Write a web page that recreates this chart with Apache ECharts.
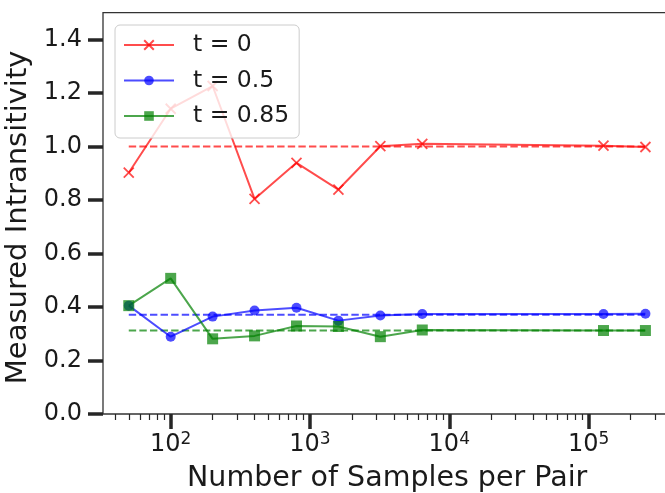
<!DOCTYPE html>
<html>
<head>
<meta charset="utf-8">
<script src="https://cdn.jsdelivr.net/npm/echarts@6/dist/echarts.min.js"></script>
<style>
html,body{margin:0;padding:0;background:#fff;}
#chart{width:665px;height:493px;}
</style>
</head>
<body>
<div id="chart"></div>
<script>
// ---- data ----
var samples = [50, 100, 200, 400, 800, 1600, 3200, 6400, 128000, 256000];
var t0   = [0.902, 1.141, 1.226, 0.804, 0.939, 0.839, 1.001, 1.010, 1.003, 0.998];
var t05  = [0.405, 0.289, 0.364, 0.387, 0.397, 0.349, 0.368, 0.374, 0.374, 0.375];
var t085 = [0.405, 0.507, 0.281, 0.292, 0.329, 0.327, 0.289, 0.314, 0.312, 0.312];
var mean0 = 1.0, mean05 = 0.371, mean085 = 0.312;
var seriesNames = ['t = 0', 't = 0.5', 't = 0.85'];
var xMajorTicks = [100, 1000, 10000, 100000];
var xMinorTicks = [40, 50, 60, 70, 80, 90,
  200, 300, 400, 500, 600, 700, 800, 900,
  2000, 3000, 4000, 5000, 6000, 7000, 8000, 9000,
  20000, 30000, 40000, 50000, 60000, 70000, 80000, 90000,
  200000, 300000];
var yTicks = [0, 0.2, 0.4, 0.6, 0.8, 1.0, 1.2, 1.4];
var xName = 'Number of Samples per Pair';
var yName = 'Measured Intransitivity';

function pairs(xs, ys) { return xs.map(function (x, i) { return [x, ys[i]]; }); }
function flat(v) { return [[samples[0], v], [samples[samples.length - 1], v]]; }

var FONT = 'DejaVu Sans';
var TXT = '#1a1a1a';
var xMin = Math.pow(10, 1.514), xMax = Math.pow(10, 5.594);
var crossPath = 'path://M0,0L10,10M10,0L0,10';

var chart = echarts.init(document.getElementById('chart'), null, {renderer: 'canvas'});
chart.setOption({
  animation: false,
  backgroundColor: '#ffffff',
  grid: {left: 103, top: 12.7, right: -6.3, bottom: 79, show: true,
         outerBoundsMode: 'none', containLabel: false,
         borderColor: '#333', borderWidth: 1.3, backgroundColor: 'transparent'},
  legend: {
    data: seriesNames,
    orient: 'vertical',
    left: 115, top: 25,
    padding: [8, 10, 10, 8],
    itemWidth: 50, itemHeight: 12, itemGap: 11.5,
    backgroundColor: 'rgba(255,255,255,0.8)',
    borderColor: '#cccccc', borderWidth: 1, borderRadius: 5,
    textStyle: {fontFamily: FONT, fontSize: 23.5, color: TXT, lineHeight: 24, padding: [0, 0, 0, 14]},
    z: 10
  },
  xAxis: [{
    type: 'log', min: xMin, max: xMax, logBase: 10,
    name: xName, nameLocation: 'middle', nameGap: 50,
    nameTextStyle: {fontFamily: FONT, fontSize: 28.5, color: TXT},
    axisLine: {show: false},
    splitLine: {show: false},
    minorTick: {show: false},
    axisTick: {show: true, customValues: xMajorTicks, length: 15, lineStyle: {color: '#262626', width: 3.5}},
    axisLabel: {
      customValues: xMajorTicks, margin: 17,
      formatter: function (v) { return '{b|10}{s|' + Math.round(Math.log10(v)) + '}'; },
      rich: {
        b: {fontFamily: FONT, fontSize: 24, color: TXT, lineHeight: 28},
        s: {fontFamily: FONT, fontSize: 17, color: TXT, lineHeight: 17, verticalAlign: 'top'}
      }
    }
  }, {
    type: 'log', min: xMin, max: xMax, logBase: 10, position: 'bottom',
    axisLine: {show: false}, splitLine: {show: false},
    axisLabel: {show: false},
    axisTick: {show: true, customValues: xMinorTicks, length: 6, lineStyle: {color: '#262626', width: 1.2}}
  }],
  yAxis: {
    type: 'value', min: 0, max: 1.5,
    name: yName, nameLocation: 'middle', nameGap: 66,
    nameTextStyle: {fontFamily: FONT, fontSize: 29, color: TXT, padding: [0, 8, 0, 0]},
    axisLine: {show: false}, splitLine: {show: false},
    axisTick: {show: true, customValues: yTicks, length: 15, lineStyle: {color: '#262626', width: 3.5}},
    axisLabel: {customValues: yTicks, margin: 21, fontFamily: FONT, fontSize: 24, color: TXT,
      formatter: function (v) { return v.toFixed(1); }}
  },
  series: [
    {name: 'mean0', type: 'line', data: flat(mean0), symbol: 'none', silent: true,
     lineStyle: {color: '#ff0000', width: 2, type: [7.4, 3.2], opacity: 0.7}, z: 1},
    {name: 'mean05', type: 'line', data: flat(mean05), symbol: 'none', silent: true,
     lineStyle: {color: '#0000ff', width: 2, type: [7.4, 3.2], opacity: 0.7}, z: 1},
    {name: 'mean085', type: 'line', data: flat(mean085), symbol: 'none', silent: true,
     lineStyle: {color: '#008000', width: 2, type: [7.4, 3.2], opacity: 0.7}, z: 1},
    {name: seriesNames[0], type: 'line', data: pairs(samples, t0),
     symbol: crossPath, symbolSize: 10, showAllSymbol: true,
     lineStyle: {color: '#ff0000', width: 2, opacity: 0.7},
     itemStyle: {color: '#ff0000', borderColor: '#ff0000', borderWidth: 1.8, opacity: 0.7}, z: 2},
    {name: seriesNames[1], type: 'line', data: pairs(samples, t05),
     symbol: 'circle', symbolSize: 10, showAllSymbol: true,
     lineStyle: {color: '#0000ff', width: 2, opacity: 0.7},
     itemStyle: {color: '#0000ff', borderWidth: 0, opacity: 0.7}, z: 2},
    {name: seriesNames[2], type: 'line', data: pairs(samples, t085),
     symbol: 'rect', symbolSize: 11, showAllSymbol: true,
     lineStyle: {color: '#008000', width: 2, opacity: 0.7},
     itemStyle: {color: '#008000', borderWidth: 0, opacity: 0.7}, z: 2}
  ]
});
</script>
</body>
</html>
